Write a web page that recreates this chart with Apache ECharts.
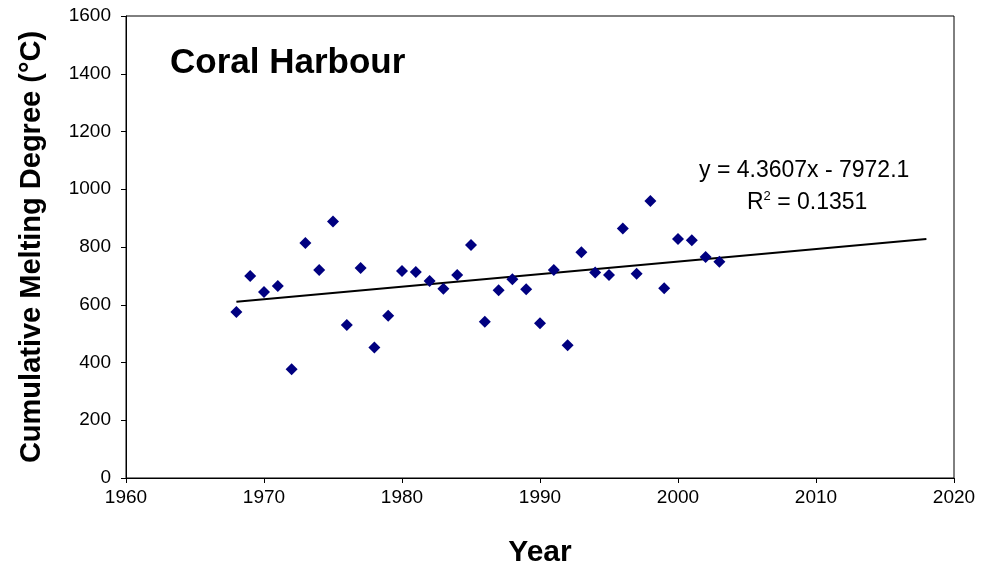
<!DOCTYPE html>
<html>
<head>
<meta charset="utf-8">
<script src="https://cdn.jsdelivr.net/npm/echarts@6/dist/echarts.min.js"></script>
<style>
  html, body { margin: 0; padding: 0; background: #fff; }
  #main { width: 982px; height: 573px; }
</style>
</head>
<body>
<div id="main"></div>
<script>
// melting degree per year
var years = [1968, 1969, 1970, 1971, 1972, 1973, 1974, 1975, 1976, 1977,
             1978, 1979, 1980, 1981, 1982, 1983, 1984, 1985, 1986, 1987,
             1988, 1989, 1990, 1991, 1992, 1993, 1994, 1995, 1996, 1997,
             1998, 1999, 2000, 2001, 2002, 2003];
var melting = [575, 700, 644, 665, 377, 814, 720, 888, 530, 727,
               452, 562, 717, 713, 682, 655, 703, 807, 541, 650,
               688, 654, 536, 720, 460, 782, 712, 703, 864, 707,
               959, 657, 828, 823, 765, 749];
// trend line ends (y = 4.3607x - 7972.1)
var trendX = [1968, 2018];
var trendY = [610, 828];

var fontFam = '"Liberation Sans", Arial, sans-serif';

var points = years.map(function (y, i) { return [y, melting[i]]; });
var trend = trendX.map(function (x, i) { return [x, trendY[i]]; });

var myChart = echarts.init(document.getElementById('main'));
var option = {
    backgroundColor: '#fff',
    animation: false,
    textStyle: { fontFamily: fontFam },
    title: {
        text: 'Coral Harbour',
        left: 165,
        top: 41,
        textStyle: { fontSize: 35, fontWeight: 'bold', color: '#000', fontFamily: fontFam }
    },
    grid: {
        left: 126,
        right: 28,
        top: 16,
        bottom: 95,
        show: true,
        borderColor: '#000',
        borderWidth: 1
    },
    xAxis: {
        type: 'value',
        min: 1960,
        max: 2020,
        interval: 10,
        name: 'Year',
        nameLocation: 'middle',
        nameGap: 60,
        nameTextStyle: { fontSize: 30, fontWeight: 'bold', color: '#000', fontFamily: fontFam },
        axisLine: { lineStyle: { color: '#000', width: 1 } },
        axisTick: { show: true, length: 5, lineStyle: { color: '#000' } },
        axisLabel: {
            fontSize: 19, color: '#000', margin: 10, fontFamily: fontFam,
            formatter: function (v) { return String(v); }
        },
        splitLine: { show: false }
    },
    yAxis: {
        type: 'value',
        min: 0,
        max: 1600,
        interval: 200,
        name: 'Cumulative Melting Degree (°C)',
        nameLocation: 'middle',
        nameGap: 80,
        nameTextStyle: { fontSize: 29, fontWeight: 'bold', color: '#000', fontFamily: fontFam },
        axisLine: { show: true, lineStyle: { color: '#000', width: 1 } },
        axisTick: { show: true, length: 5, lineStyle: { color: '#000' } },
        axisLabel: {
            fontSize: 19, color: '#000', margin: 15, fontFamily: fontFam,
            formatter: function (v) { return String(v); }
        },
        splitLine: { show: false }
    },
    graphic: [
        {
            type: 'text',
            left: 699,
            top: 159,
            style: {
                text: 'y = 4.3607x - 7972.1',
                fontSize: 23,
                fontFamily: fontFam,
                fill: '#000'
            }
        },
        {
            type: 'text',
            left: 747,
            top: 190,
            style: {
                text: 'R{sup|2} = 0.1351',
                fontSize: 23,
                fontFamily: fontFam,
                fill: '#000',
                rich: {
                    sup: { fontSize: 13, verticalAlign: 'top', padding: [0, 0, 12, 0], fontFamily: fontFam }
                }
            }
        }
    ],
    series: [
        {
            name: 'trend',
            type: 'line',
            data: trend,
            symbol: 'none',
            lineStyle: { color: '#000', width: 2 },
            silent: true,
            z: 1
        },
        {
            name: 'melting',
            type: 'scatter',
            data: points,
            symbol: 'diamond',
            symbolSize: 12,
            itemStyle: { color: '#000080', opacity: 1 },
            z: 2
        }
    ]
};
myChart.setOption(option);
</script>
</body>
</html>
